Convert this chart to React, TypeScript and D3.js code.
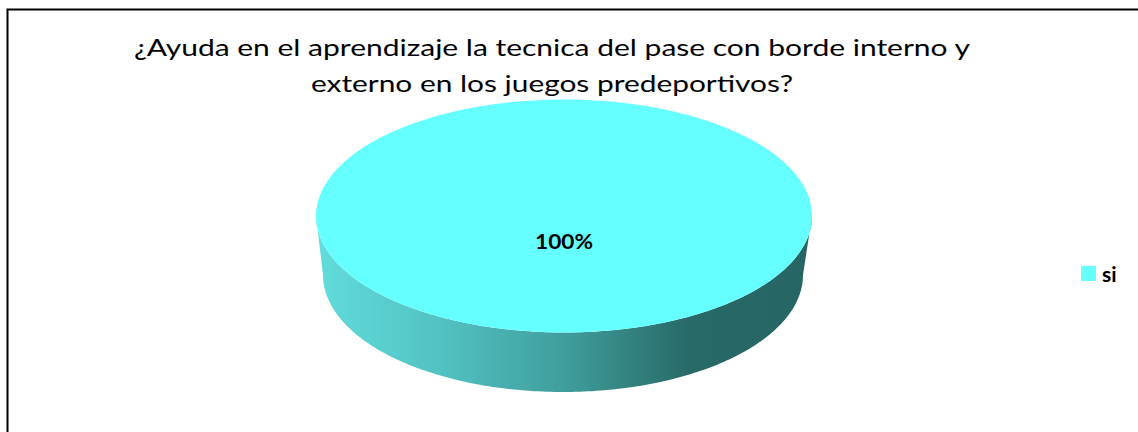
import React from "react";
import * as d3 from "d3";

const categories = ["si"];
const values = [100];
const colors = ["#66FFFF"];
const titleLines = [
  "¿Ayuda en el aprendizaje la tecnica del pase con borde interno y",
  "externo en los juegos predeportivos?",
];

const W = 1138;
const H = 432;

export default function App() {
  const pieGen = d3.pie<number>().sort(null).value((d) => d);
  const arcs = pieGen(values);
  const total = d3.sum(values);

  // elliptical projection of the pie
  const cx = 564, cy = 216, rx = 248, ry = 116.5;
  const bcx = 563, bcy = 275, brx = 240, bry = 117;

  const topPath = (a0: number, a1: number) => {
    const p = d3.path();
    const n = 180;
    const full = a1 - a0 >= Math.PI * 2 - 1e-6;
    if (!full) p.moveTo(cx, cy);
    for (let i = 0; i <= n; i++) {
      const a = a0 + ((a1 - a0) * i) / n;
      const x = cx + rx * Math.sin(a);
      const y = cy - ry * Math.cos(a);
      if (i === 0 && full) p.moveTo(x, y);
      else p.lineTo(x, y);
    }
    p.closePath();
    return p.toString();
  };

  // front side wall
  const sidePath = () => {
    const p = d3.path();
    const n = 180;
    for (let i = 0; i <= n; i++) {
      const a = Math.PI / 2 + (Math.PI * i) / n;
      const x = cx + rx * Math.sin(a);
      const y = cy - ry * Math.cos(a);
      if (i === 0) p.moveTo(x, y);
      else p.lineTo(x, y);
    }
    for (let i = 0; i <= n; i++) {
      const a = (3 * Math.PI) / 2 - (Math.PI * i) / n;
      const x = bcx + brx * Math.sin(a);
      const y = bcy - bry * Math.cos(a);
      p.lineTo(x, y);
    }
    p.closePath();
    return p.toString();
  };

  const pct = d3.format(".0%");

  return (
    <svg width={W} height={H} style={{ position: "absolute", left: 0, top: 0 }}>
      <defs>
        <linearGradient id="sideGrad" gradientUnits="userSpaceOnUse" x1={316} y1={0} x2={812} y2={0}>
          <stop offset="0" stopColor="#62DCDC" />
          <stop offset="0.25" stopColor="#52C2C2" />
          <stop offset="0.5" stopColor="#3F9E9C" />
          <stop offset="0.75" stopColor="#286A68" />
          <stop offset="1" stopColor="#266563" />
        </linearGradient>
      </defs>
      <rect x={0} y={0} width={W} height={H} fill="#fff" />
      <path d={`M7.5,${H} V9.5 H${W}`} fill="none" stroke="#000" strokeWidth={2} />
      {titleLines.map((t, i) => (
        <text
          key={i}
          x={552}
          y={56 + i * 36}
          textAnchor="middle"
          fontFamily="Lato, 'Open Sans', sans-serif"
          fontSize={24}
          fill="#000"
          textLength={i === 0 ? 836 : 482}
          lengthAdjust="spacingAndGlyphs"
        >
          {t}
        </text>
      ))}
      <path d={sidePath()} fill="url(#sideGrad)" />
      {arcs.map((a, i) => (
        <path key={i} d={topPath(a.startAngle, a.endAngle)} fill={colors[i]} />
      ))}
      {arcs.map((a, i) => (
        <text
          key={"l" + i}
          x={564}
          y={249}
          textAnchor="middle"
          fontFamily="Lato, 'Open Sans', sans-serif"
          fontWeight="bold"
          fontSize={21}
          fill="#000"
          textLength={58}
          lengthAdjust="spacingAndGlyphs"
        >
          {pct(a.value / total)}
        </text>
      ))}
      {categories.map((c, i) => (
        <g key={c} transform={`translate(1081,${266 + i * 24})`}>
          <rect x={0} y={0} width={15} height={15} fill={colors[i]} />
          <text
            x={21}
            y={16}
            fontFamily="Lato, 'Open Sans', sans-serif"
            fontWeight="bold"
            fontSize={21}
            fill="#000"
          >
            {c}
          </text>
        </g>
      ))}
    </svg>
  );
}
